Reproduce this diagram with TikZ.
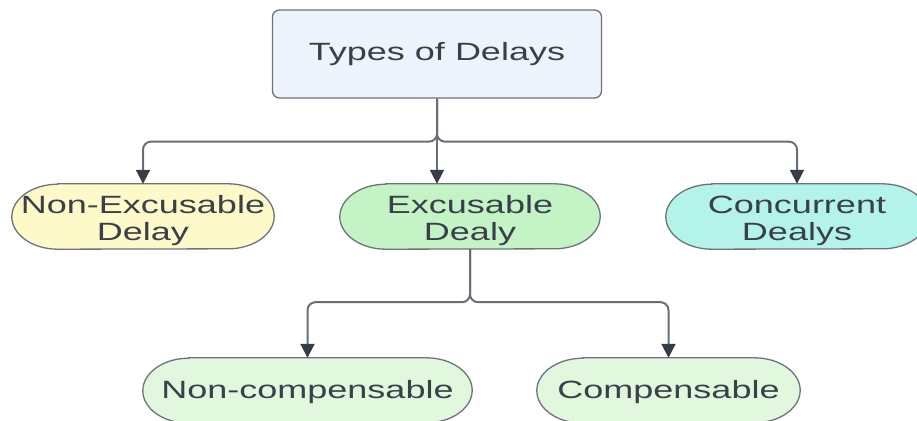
\documentclass[tikz,border=0pt]{standalone}
\usepackage{fontspec}
\setmainfont{Liberation Sans}[FakeStretch=1.44]
\usetikzlibrary{arrows.meta}

\definecolor{inkc}{HTML}{3A404A}
\definecolor{edgec}{HTML}{6E737A}
\definecolor{linec}{HTML}{6A6F77}
\definecolor{tipc}{HTML}{373D47}
\definecolor{topfill}{HTML}{EEF4FE}
\definecolor{yelfill}{HTML}{FEF9C8}
\definecolor{grnfill}{HTML}{C4F3C6}
\definecolor{cyanfill}{HTML}{B3F3EA}
\definecolor{palefill}{HTML}{E2F8DE}

\tikzset{
  headbox/.style={draw=edgec, line width=1.3pt, inner sep=0pt, align=center,
    text=inkc, font=\fontsize{25}{27}\selectfont, rounded corners=7pt,
    fill=topfill, minimum width=329pt, minimum height=88pt},
  % invisible frame that fixes the size and anchors of a pill
  pillslot/.style={inner sep=0pt, minimum height=65pt},
  pillline/.style={draw=edgec, line width=1.3pt},
  pilltext/.style={inner sep=0pt, align=center, text=inkc,
    font=\fontsize{25}{27}\selectfont, yshift=-4pt},
  conn/.style={draw=linec, line width=2pt, rounded corners=8pt,
    -{Triangle[length=14pt,width=14pt,color=tipc]}},
}

% pill outline with half-ellipse ends around the frame of node #1
\newcommand\pillpath[2]{%
  \path[pillline, fill=#2]
    ([xshift=46pt]#1.north west) -- ([xshift=-46pt]#1.north east)
    arc[start angle=90, end angle=-90, x radius=46pt, y radius=32.5pt]
    -- ([xshift=46pt]#1.south west)
    arc[start angle=270, end angle=90, x radius=46pt, y radius=32.5pt]
    -- cycle;}

\begin{document}
\begin{tikzpicture}[x=1pt,y=-1pt]
\useasboundingbox (0,0) rectangle (917,420);

% root
\node[headbox] (top) at (437,54) {Types of Delays};

% first level
\node[pillslot, minimum width=262pt] (ne) at (143,216.5) {};
\node[pillslot, minimum width=260pt] (ex) at (470,216.5) {};
\node[pillslot, minimum width=262pt] (cc) at (797,216.5) {};
\pillpath{ne}{yelfill}
\pillpath{ex}{grnfill}
\pillpath{cc}{cyanfill}
\node[pilltext] (ne-t) at (ne.center) {Non-Excusable\\Delay};
\node[pilltext] (ex-t) at (ex.center) {Excusable\\Dealy};
\node[pilltext] (cc-t) at (cc.center) {Concurrent\\Dealys};

% second level
\node[pillslot, minimum width=329pt] (nc) at (307.5,390.5) {};
\node[pillslot, minimum width=263pt] (cp) at (668.5,390.5) {};
\pillpath{nc}{palefill}
\pillpath{cp}{palefill}
\node[pilltext, yshift=2pt] (nc-t) at (nc.center) {Non-compensable};
\node[pilltext, yshift=2pt] (cp-t) at (cp.center) {Compensable};

% connectors from the root
\draw[conn] (top.south) -- ++(0,43) -| (ne.north);
\draw[conn] (top.south) -- (top.south |- ex.north);
\draw[conn] (top.south) -- ++(0,43) -| (cc.north);

% connectors from the excusable branch
\draw[conn] (ex.south) -- ++(0,53) -| (nc.north);
\draw[conn] (ex.south) -- ++(0,53) -| (cp.north);
\end{tikzpicture}
\end{document}
